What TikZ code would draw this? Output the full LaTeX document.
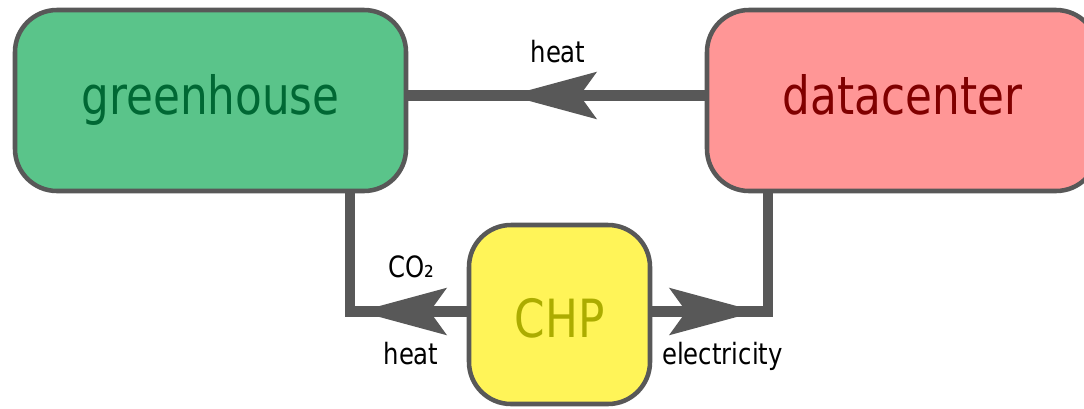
\documentclass[tikz,border=0pt]{standalone}
\usepackage{fontspec}
\setmainfont{DejaVu Sans}[FakeStretch=0.83]
\usetikzlibrary{arrows.meta,decorations.markings,backgrounds}
\definecolor{edgegray}{RGB}{88,88,88}
\definecolor{ghfill}{RGB}{90,196,138}
\definecolor{ghtext}{RGB}{0,104,52}
\definecolor{dcfill}{RGB}{255,150,150}
\definecolor{dctext}{RGB}{128,0,0}
\definecolor{chpfill}{RGB}{255,244,88}
\definecolor{chptext}{RGB}{172,172,0}
\begin{document}
\begin{tikzpicture}[x=0.75pt,y=-0.75pt,
  box/.style={draw=edgegray, line width=3.4pt, rounded corners=31.5pt, inner sep=0pt,
    font=\fontsize{39.5}{39.5}\selectfont},
  bigbox/.style={box, minimum width=293.25pt, minimum height=135.75pt,
    text height=29.6pt, text depth=8.6pt},
  conn/.style={color=edgegray, line width=8.2pt},
  lbl/.style={font=\fontsize{22}{22}\selectfont, text=black, anchor=base, inner sep=0pt},
  tipat/.style={postaction={decorate}, decoration={markings,
    mark=at position #1 with {\arrow{Stealth[length=65.25pt,width=34.5pt,inset=12pt]}}}}
]
\clip (0,0) rectangle (1084,408);
\node[bigbox, fill=ghfill, text=ghtext] (gh) at (210.5,100.5) {greenhouse};
\node[bigbox, fill=dcfill, text=dctext] (dc) at (902.5,100.5) {datacenter};
\node[box, fill=chpfill, text=chptext, minimum width=135.75pt, minimum height=134.25pt,
  text height=37.5pt, text depth=3.75pt] (chp) at (559.5,314.5) {CHP};
\coordinate (hy) at (0,95.5);
\coordinate (gcorner) at (350,311.5);
\coordinate (dcorner) at (768,311.5);
\begin{scope}[on background layer]
\draw[conn, tipat=147pt] (dc.west |- hy) -- (gh.east |- hy);
\draw[conn, tipat=81pt] (chp.west |- gcorner) -- (gcorner) -- (gh.south -| gcorner);
\draw[conn, tipat=78.75pt] (chp.east |- dcorner) -- (dcorner) -- (dc.south -| dcorner);
\end{scope}
\node[lbl] (lheat) at (558,62) {heat};
\node[lbl] (lco) at (411.5,277) {CO₂};
\node[lbl] (lheatb) at (411,364) {heat};
\node[lbl] (lelec) at (722.5,364) {electricity};
\end{tikzpicture}
\end{document}
